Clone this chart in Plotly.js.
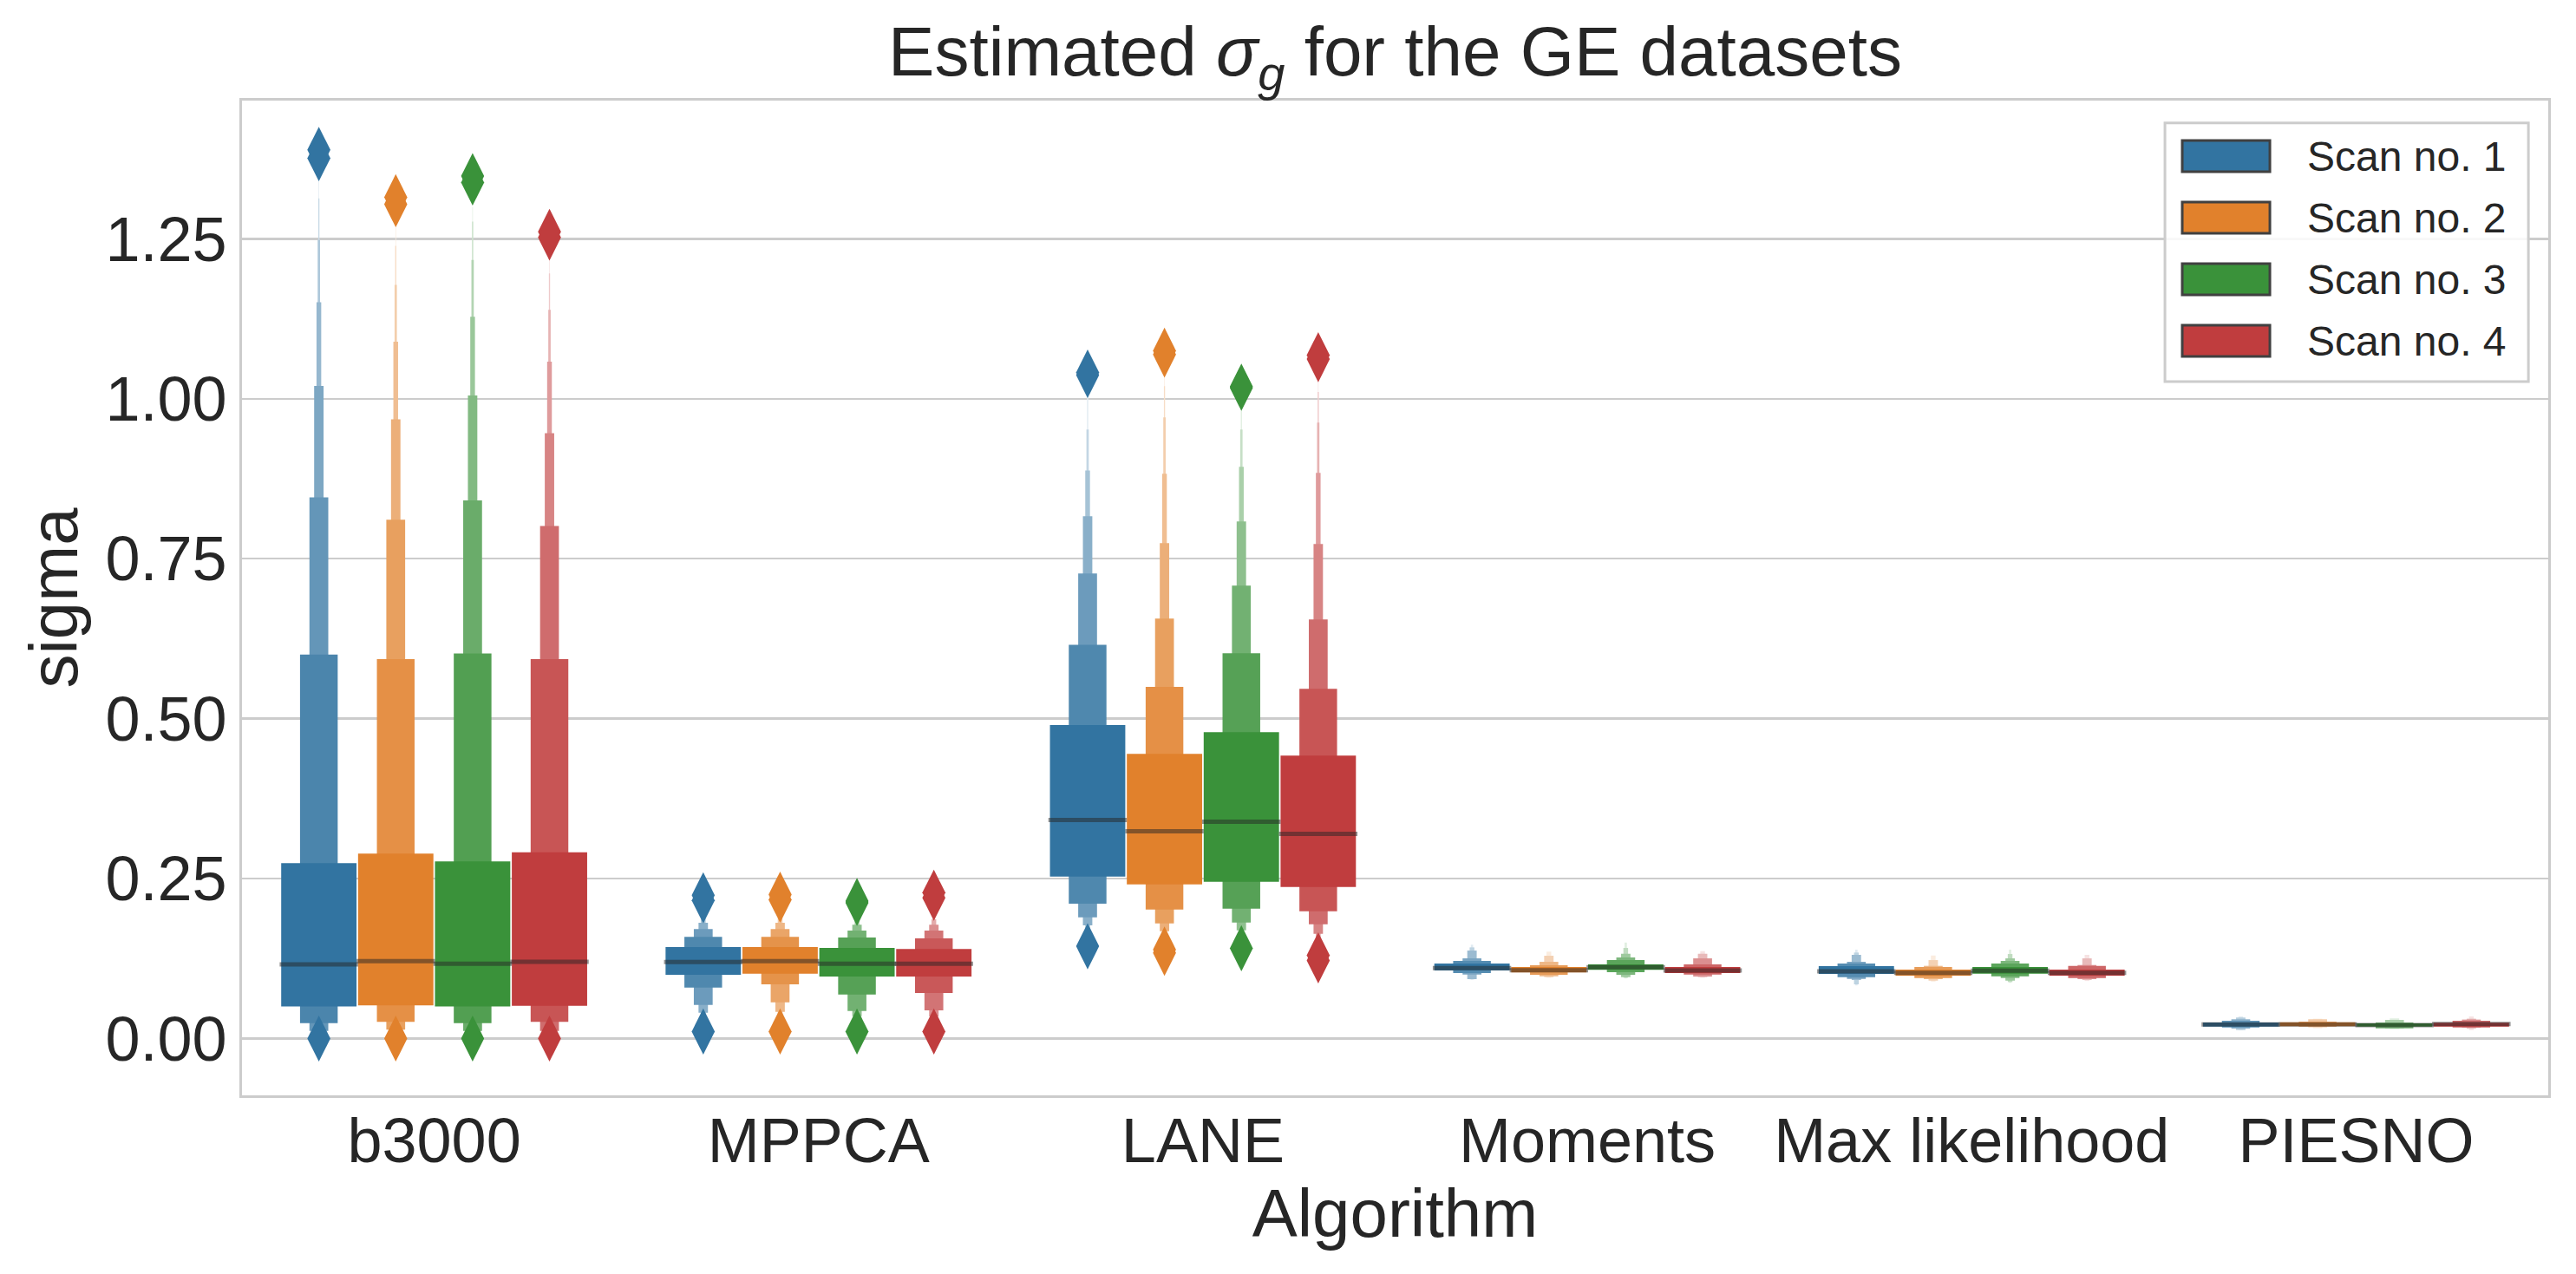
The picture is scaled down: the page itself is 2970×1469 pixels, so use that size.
<!DOCTYPE html>
<html>
<head>
<meta charset="utf-8">
<script src="https://cdn.plot.ly/plotly-3.0.1.min.js"></script>
<style>
  html, body { margin: 0; padding: 0; background: #ffffff; }
  #chart { width: 2970px; height: 1469px; }
</style>
</head>
<body>
<div id="chart"></div>
<script>
// Categories and hue levels
var algorithms = ['b3000', 'MPPCA', 'LANE', 'Moments', 'Max likelihood', 'PIESNO'];
var scans = ['Scan no. 1', 'Scan no. 2', 'Scan no. 3', 'Scan no. 4'];
var scanColors = ['#3274a1', '#e1812c', '#3a923a', '#c03d3e'];

// Letter-value edges per scan, innermost level (quartiles) first
var b3000Upper = [
    [0.274, 0.600, 0.846, 1.020, 1.151, 1.248, 1.313, 1.349],
    [0.289, 0.593, 0.811, 0.968, 1.089, 1.178, 1.239, 1.297],
    [0.277, 0.602, 0.841, 1.005, 1.128, 1.217, 1.277, 1.300],
    [0.291, 0.593, 0.801, 0.946, 1.058, 1.139, 1.196, 1.227]
];
var b3000Lower = [
    [0.050, 0.024, 0.012, 0.005, 0.003, 0.002, 0.001, 0.0005],
    [0.052, 0.026, 0.014, 0.007, 0.004, 0.002, 0.001, 0.0005],
    [0.050, 0.024, 0.012, 0.005, 0.003, 0.002, 0.001, 0.0005],
    [0.051, 0.026, 0.012, 0.006, 0.003, 0.002, 0.001, 0.0005]
];
var mppcaUpper = [
    [0.143, 0.159, 0.171, 0.181, 0.1886, 0.194, 0.2035],
    [0.143, 0.159, 0.171, 0.181, 0.1877, 0.2008, 0.209],
    [0.1416, 0.158, 0.1687, 0.178, 0.185, 0.192, 0.200],
    [0.140, 0.1565, 0.1687, 0.178, 0.1863, 0.194, 0.202]
];
var mppcaLower = [
    [0.0996, 0.0797, 0.0526, 0.0404, 0.0336, 0.028, 0.017],
    [0.1014, 0.0847, 0.0567, 0.0418, 0.0336, 0.025, 0.017],
    [0.0969, 0.0689, 0.0431, 0.035, 0.028, 0.022, 0.019],
    [0.0969, 0.0711, 0.044, 0.0347, 0.028, 0.022, 0.016]
];
var laneUpper = [
    [0.490, 0.6154, 0.727, 0.8164, 0.888, 0.952, 1.0106],
    [0.445, 0.5495, 0.6565, 0.7744, 0.8828, 0.9709, 1.0196, 1.041],
    [0.479, 0.6023, 0.708, 0.8082, 0.8936, 0.952, 0.9848],
    [0.4424, 0.5467, 0.655, 0.773, 0.884, 0.9627, 1.0106, 1.034]
];
var laneLower = [
    [0.2531, 0.2107, 0.1894, 0.1768, 0.1673, 0.152, 0.148],
    [0.2409, 0.2016, 0.180, 0.1678, 0.160, 0.148, 0.142, 0.138],
    [0.245, 0.203, 0.1813, 0.169, 0.160, 0.149, 0.145],
    [0.2369, 0.199, 0.1786, 0.1637, 0.157, 0.143, 0.138, 0.133]
];
var momentsUpper = [
    [0.1172, 0.1213, 0.1253, 0.1375, 0.1425, 0.1466],
    [0.1118, 0.1145, 0.1199, 0.1294, 0.1358],
    [0.1159, 0.1226, 0.1267, 0.1325, 0.1416, 0.150],
    [0.1118, 0.1159, 0.1253, 0.1325, 0.1366]
];
var momentsLower = [
    [0.1064, 0.1023, 0.100, 0.0928, 0.0925, 0.092],
    [0.1032, 0.0996, 0.0973, 0.096, 0.095],
    [0.1073, 0.1037, 0.0996, 0.096, 0.095, 0.094],
    [0.1023, 0.100, 0.0969, 0.096, 0.095]
];
var maxLikUpper = [
    [0.1131, 0.1172, 0.1199, 0.1308, 0.1344, 0.1389],
    [0.1077, 0.1118, 0.1136, 0.1226, 0.1298],
    [0.1118, 0.1172, 0.1213, 0.1253, 0.1321, 0.1389],
    [0.1077, 0.1136, 0.1149, 0.1253, 0.1308]
];
var maxLikLower = [
    [0.101, 0.096, 0.0932, 0.0915, 0.0847, 0.083],
    [0.0982, 0.0946, 0.0928, 0.0905, 0.089],
    [0.1014, 0.0973, 0.0946, 0.0905, 0.0883, 0.087],
    [0.0982, 0.0946, 0.0928, 0.0915, 0.090]
];
var piesnoUpper = [
    [0.0251, 0.0278, 0.0301, 0.0328, 0.0345],
    [0.0255, 0.0264, 0.0301, 0.031],
    [0.0237, 0.0251, 0.0291, 0.0315],
    [0.0246, 0.0278, 0.0296, 0.031, 0.0345]
];
var piesnoLower = [
    [0.0187, 0.0174, 0.0156, 0.0133, 0.013],
    [0.0192, 0.0185, 0.0175, 0.016],
    [0.0187, 0.016, 0.0156, 0.0147],
    [0.0187, 0.0174, 0.017, 0.0156, 0.0133]
];

// Medians, one row per algorithm, one value per scan
var medians = [
    [0.116, 0.121, 0.117, 0.120],
    [0.1195, 0.121, 0.117, 0.117],
    [0.3417, 0.3241, 0.339, 0.320],
    [0.110, 0.1068, 0.1114, 0.1064],
    [0.105, 0.1027, 0.106, 0.1027],
    [0.0219, 0.0219, 0.021, 0.0228]
];

// Outliers drawn as diamonds (per algorithm, per scan)
var outliers = [
    [[1.389, 1.376, 0.0], [1.315, 1.304, 0.0], [1.348, 1.338, 0.0], [1.261, 1.252, 0.0]],
    [[0.224, 0.216, 0.011], [0.225, 0.217, 0.011], [0.215, 0.212, 0.011], [0.228, 0.220, 0.011]],
    [[1.041, 1.037, 0.1443], [1.075, 1.069, 0.139, 0.134], [1.019, 1.017, 0.141], [1.068, 1.062, 0.130, 0.122]],
    [[], [], [], []],
    [[], [], [], []],
    [[], [], [], []]
];

var algoUpper = [b3000Upper, mppcaUpper, laneUpper, momentsUpper, maxLikUpper, piesnoUpper];
var algoLower = [b3000Lower, mppcaLower, laneLower, momentsLower, maxLikLower, piesnoLower];

var boxWidth = 0.196;   // width of the quartile box, in category units
var dodge = 0.2;        // spacing between scans inside a category
var textColor = '#262626';
var fontFamily = 'Liberation Sans, Arial, sans-serif';

// blend a hex colour toward white
function mixWhite(hex, t) {
    var r = parseInt(hex.substr(1, 2), 16);
    var g = parseInt(hex.substr(3, 2), 16);
    var b = parseInt(hex.substr(5, 2), 16);
    r = Math.round(r + (255 - r) * t);
    g = Math.round(g + (255 - g) * t);
    b = Math.round(b + (255 - b) * t);
    return 'rgb(' + r + ',' + g + ',' + b + ')';
}

function scanX(i, s) {
    return i + (s - 1.5) * dodge;
}

var data = [];

// Letter-value boxes, outermost first so the wide inner boxes sit on top
algorithms.forEach(function(algo, i) {
    scans.forEach(function(scan, s) {
        var up = algoUpper[i][s];
        var lo = algoLower[i][s];
        var n = up.length;
        var xs = [], bases = [], lengths = [], widths = [], colors = [];
        for (var k = n - 1; k >= 0; k--) {
            xs.push(scanX(i, s));
            bases.push(lo[k]);
            lengths.push(up[k] - lo[k]);
            widths.push(boxWidth / Math.pow(2, k));
            colors.push(mixWhite(scanColors[s], n > 1 ? 0.85 * k / (n - 1) : 0));
        }
        data.push({
            type: 'bar',
            x: xs,
            base: bases,
            y: lengths,
            width: widths,
            marker: { color: colors, line: { width: 0 } },
            showlegend: false,
            hoverinfo: 'skip'
        });
    });
});

// Median lines
var medX = [], medY = [];
algorithms.forEach(function(algo, i) {
    scans.forEach(function(scan, s) {
        var half = boxWidth / 2 + 0.004;
        medX.push(scanX(i, s) - half, scanX(i, s) + half, null);
        medY.push(medians[i][s], medians[i][s], null);
    });
});
data.push({
    type: 'scatter',
    mode: 'lines',
    x: medX,
    y: medY,
    line: { color: 'rgba(38,38,38,0.5)', width: 5 },
    showlegend: false,
    hoverinfo: 'skip'
});

// Outliers
scans.forEach(function(scan, s) {
    var ox = [], oy = [];
    algorithms.forEach(function(algo, i) {
        outliers[i][s].forEach(function(v) {
            ox.push(scanX(i, s));
            oy.push(v);
        });
    });
    data.push({
        type: 'scatter',
        mode: 'markers',
        x: ox,
        y: oy,
        marker: { symbol: 'diamond-tall', size: 38, color: scanColors[s], line: { width: 0 } },
        showlegend: false,
        hoverinfo: 'skip'
    });
});

// Hand-built legend (big patches like matplotlib)
var shapes = [{
    type: 'rect', xref: 'paper', yref: 'paper',
    x0: 0.8338, x1: 0.9914, y0: 0.7175, y1: 0.9776,
    fillcolor: 'rgba(255,255,255,0.85)',
    line: { color: '#cccccc', width: 3 },
    layer: 'above'
}];
var annotations = [];
scans.forEach(function(scan, s) {
    var yc = 0.9442 - s * 0.0619;
    shapes.push({
        type: 'rect', xref: 'paper', yref: 'paper',
        x0: 0.8413, x1: 0.8793, y0: yc - 0.0157, y1: yc + 0.0157,
        fillcolor: scanColors[s],
        line: { color: '#404040', width: 3 },
        layer: 'above'
    });
    annotations.push({
        xref: 'paper', yref: 'paper',
        x: 0.8947, y: yc,
        xanchor: 'left', yanchor: 'middle',
        text: scan,
        showarrow: false,
        font: { family: fontFamily, size: 48, color: textColor }
    });
});

var layout = {
    width: 2970,
    height: 1469,
    autosize: false,
    margin: { l: 279, r: 32, t: 116, b: 206 },
    paper_bgcolor: '#ffffff',
    plot_bgcolor: '#ffffff',
    barmode: 'overlay',
    font: { family: fontFamily, color: textColor },
    title: {
        text: 'Estimated <i>σ</i><sub><i>g</i></sub> for the GE datasets',
        font: { family: fontFamily, size: 80, color: textColor },
        x: 0.5,
        xref: 'paper',
        y: 0.96,
        yanchor: 'middle'
    },
    xaxis: {
        range: [-0.5, 5.5],
        tickmode: 'array',
        tickvals: algorithms.map(function(a, i) { return i; }),
        ticktext: algorithms,
        showgrid: false,
        zeroline: false,
        showline: true,
        mirror: true,
        linecolor: '#cccccc',
        linewidth: 3,
        ticks: '',
        ticklabelstandoff: -12,
        tickfont: { family: fontFamily, size: 72, color: textColor },
        title: { text: 'Algorithm', font: { family: fontFamily, size: 78, color: textColor }, standoff: 10 },
        automargin: false
    },
    yaxis: {
        range: [-0.0888, 1.466],
        tickmode: 'array',
        tickvals: [0, 0.25, 0.5, 0.75, 1.0, 1.25],
        tickformat: '.2f',
        showgrid: true,
        gridcolor: '#cccccc',
        gridwidth: 2.5,
        zeroline: false,
        showline: true,
        mirror: true,
        linecolor: '#cccccc',
        linewidth: 3,
        ticks: '',
        ticklabelstandoff: 0,
        tickfont: { family: fontFamily, size: 72, color: textColor },
        title: { text: 'sigma', font: { family: fontFamily, size: 78, color: textColor }, standoff: 7 },
        automargin: false
    },
    shapes: shapes,
    annotations: annotations,
    showlegend: false
};

Plotly.newPlot('chart', data, layout, { staticPlot: true, displayModeBar: false });
</script>
</body>
</html>
